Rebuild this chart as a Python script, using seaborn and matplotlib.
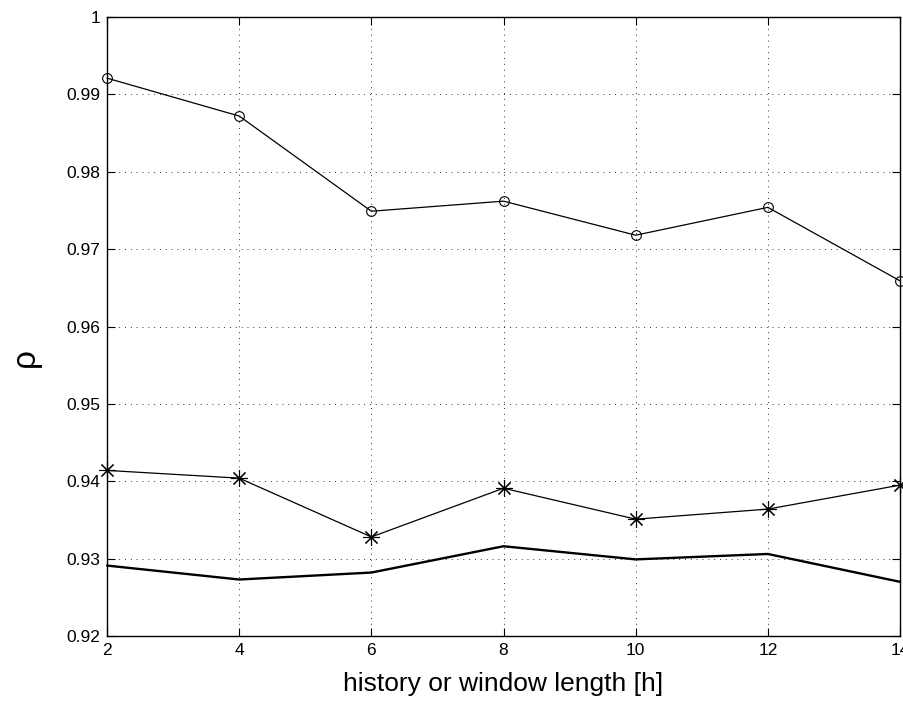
import pandas as pd
import matplotlib.pyplot as plt
import seaborn as sns

hours = [2, 4, 6, 8, 10, 12, 14]
rho_circle = [0.9921, 0.9872, 0.9749, 0.9762, 0.9718, 0.9754, 0.9659]
rho_star = [0.9414, 0.9404, 0.9328, 0.9391, 0.9351, 0.9364, 0.9395]
rho_plain = [0.9291, 0.9273, 0.9282, 0.9316, 0.9299, 0.9306, 0.9270]

x_ticks = [2, 4, 6, 8, 10, 12, 14]
y_ticks = [0.92, 0.93, 0.94, 0.95, 0.96, 0.97, 0.98, 0.99, 1.0]
y_labels = ["0.92", "0.93", "0.94", "0.95", "0.96", "0.97", "0.98", "0.99", "1"]

df = pd.DataFrame({
    "hours": hours * 3,
    "rho": rho_circle + rho_star + rho_plain,
    "series": ["circle"] * 7 + ["star"] * 7 + ["plain"] * 7,
})

sns.set_theme(style="ticks")
plt.rcParams["font.family"] = ["Liberation Sans", "DejaVu Sans"]
plt.rcParams["text.color"] = "black"
plt.rcParams["axes.labelcolor"] = "black"

fig = plt.figure(figsize=(9.04, 7.15), dpi=100)
ax = fig.add_axes([0.1184, 0.1105, 0.8772, 0.8657])

styles = {
    "circle": dict(marker="o", markersize=7, markerfacecolor="none",
                   markeredgecolor="black", markeredgewidth=0.8, linewidth=0.9),
    "star": dict(marker=(8, 2, 0), markersize=12, markeredgecolor="black",
                 markeredgewidth=0.8, linewidth=0.9),
    "plain": dict(linewidth=1.7),
}

for name, kw in styles.items():
    sub = df[df["series"] == name]
    sns.lineplot(data=sub, x="hours", y="rho", color="black", ax=ax,
                 clip_on=False, zorder=3, **kw)

ax.set_xlim(2, 14)
ax.set_ylim(0.92, 1.0)
ax.set_xticks(x_ticks)
ax.set_yticks(y_ticks)
ax.set_yticklabels(y_labels)
ax.tick_params(direction="in", length=6, width=0.8, labelsize=12.5,
               top=True, right=True, colors="black", pad=5)
ax.grid(True, linestyle=(0, (1, 5)), color="black", linewidth=0.7, alpha=0.8)
for s in ax.spines.values():
    s.set_color("black")
    s.set_linewidth(1.0)

ax.set_xlabel("history or window length [h]", fontsize=19, labelpad=10)
ax.set_ylabel("ρ", fontsize=24)
ax.yaxis.set_label_coords(-0.083, 0.45)

plt.savefig("out.png", dpi=100)
plt.close()
